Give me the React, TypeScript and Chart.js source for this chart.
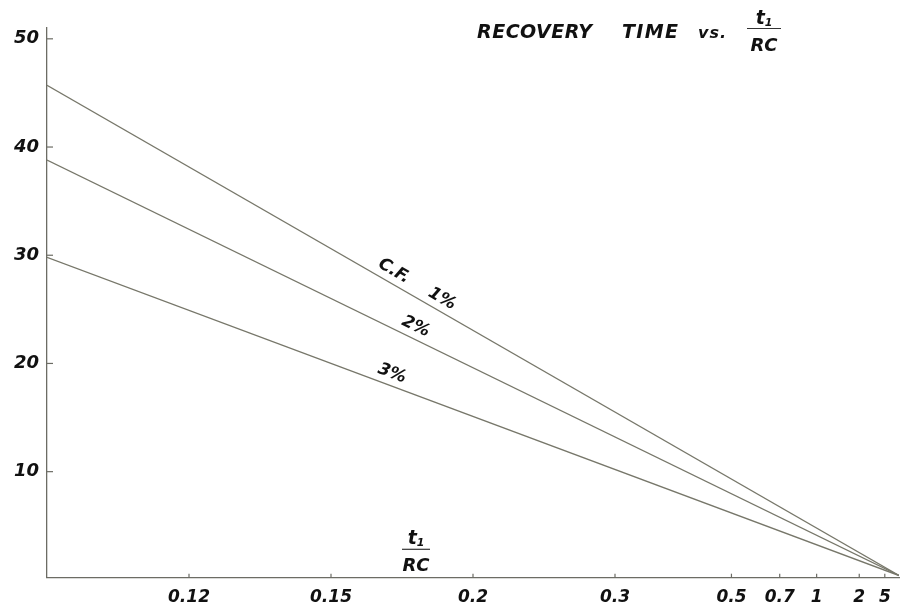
import React, { useEffect, useRef } from "react";
import { Chart, registerables } from "chart.js";

Chart.register(...registerables);

// ---- data ----
const xTickPositions = [1, 2, 3, 4, 4.82, 5.16, 5.42, 5.72, 5.9];
const xTickLabels = ["0.12", "0.15", "0.2", "0.3", "0.5", "0.7", "1", "2", "5"];
const yTickValues = [10, 20, 30, 40, 50];
const xPoints = [0, 6];
const seriesNames = ["C.F. 1%", "C.F. 2%", "C.F. 3%"];
const cf1 = [45.7, 0.4];
const cf2 = [38.8, 0.4];
const cf3 = [29.8, 0.4];
const seriesValues = [cf1, cf2, cf3];
const curveLabels = ["C.F.", "1%", "2%", "3%"];
const curveLabelSeries = [0, 0, 1, 2];
const curveLabelX = [2.4, 2.74, 2.56, 2.4];

const FONT = "'DejaVu Sans', sans-serif";
const LINE = "#77776a";
const AXIS = "#6c6c64";
const INK = "#111111";

function spacedText(ctx: CanvasRenderingContext2D, text: string, x: number, y: number, width: number) {
  (ctx as any).letterSpacing = "0px";
  const w = ctx.measureText(text).width;
  const sp = text.length > 1 ? (width - w) / (text.length - 1) : 0;
  (ctx as any).letterSpacing = `${sp}px`;
  ctx.fillText(text, x, y);
  (ctx as any).letterSpacing = "0px";
}

function fraction(ctx: CanvasRenderingContext2D, cx: number, barY: number, half: number) {
  ctx.save();
  ctx.fillStyle = INK;
  ctx.textBaseline = "alphabetic";
  ctx.font = `italic bold 19px ${FONT}`;
  const tw = ctx.measureText("t").width;
  ctx.font = `italic bold 11px ${FONT}`;
  const sw = ctx.measureText("1").width;
  const start = cx - (tw + sw) / 2;
  ctx.font = `italic bold 19px ${FONT}`;
  ctx.textAlign = "left";
  ctx.fillText("t", start, barY - 5);
  ctx.font = `italic bold 11px ${FONT}`;
  ctx.fillText("1", start + tw, barY - 3);
  ctx.strokeStyle = "#333";
  ctx.lineWidth = 1.2;
  ctx.beginPath();
  ctx.moveTo(cx - half, barY);
  ctx.lineTo(cx + half, barY);
  ctx.stroke();
  ctx.font = `italic bold 18px ${FONT}`;
  ctx.textAlign = "center";
  ctx.fillText("RC", cx, barY + 22);
  ctx.restore();
}

const overlay = {
  id: "overlay",
  afterDraw(chart: any) {
    const ctx: CanvasRenderingContext2D = chart.ctx;
    const xs = chart.scales.x;
    const ys = chart.scales.y;
    const area = chart.chartArea;
    ctx.save();
    // inward tick marks
    ctx.strokeStyle = AXIS;
    ctx.lineWidth = 1.2;
    xTickPositions.forEach((v) => {
      const px = xs.getPixelForValue(v);
      ctx.beginPath();
      ctx.moveTo(px, area.bottom);
      ctx.lineTo(px, area.bottom - 4);
      ctx.stroke();
    });
    yTickValues.forEach((v) => {
      const py = ys.getPixelForValue(v);
      ctx.beginPath();
      ctx.moveTo(area.left, py);
      ctx.lineTo(area.left + 6, py);
      ctx.stroke();
    });

    // curve labels along the lines
    ctx.fillStyle = INK;
    ctx.font = `italic bold 17px ${FONT}`;
    ctx.textAlign = "center";
    ctx.textBaseline = "middle";
    curveLabels.forEach((txt, i) => {
      const s = seriesValues[curveLabelSeries[i]];
      const x = curveLabelX[i];
      const y = s[0] + ((s[1] - s[0]) * (x - xPoints[0])) / (xPoints[1] - xPoints[0]);
      const p0x = xs.getPixelForValue(xPoints[0]);
      const p0y = ys.getPixelForValue(s[0]);
      const p1x = xs.getPixelForValue(xPoints[1]);
      const p1y = ys.getPixelForValue(s[1]);
      const th = Math.atan2(p1y - p0y, p1x - p0x);
      const px = xs.getPixelForValue(x);
      const py = ys.getPixelForValue(y);
      const d = 12;
      ctx.save();
      ctx.translate(px + d * Math.sin(th), py - d * Math.cos(th));
      ctx.rotate(th);
      ctx.fillText(txt, 0, 0);
      ctx.restore();
    });

    // title
    ctx.textAlign = "left";
    ctx.textBaseline = "alphabetic";
    ctx.font = `italic bold 19px ${FONT}`;
    spacedText(ctx, "RECOVERY", 477, 38, 115);
    spacedText(ctx, "TIME", 622, 38, 56);
    ctx.font = `italic bold 16px ${FONT}`;
    spacedText(ctx, "vs.", 698, 38, 28);
    ctx.restore();

    fraction(ctx, 764, 28.5, 17);
    // x-axis label
    fraction(ctx, 416, 549.3, 14);
  },
};

export default function App() {
  const ref = useRef<HTMLCanvasElement | null>(null);
  useEffect(() => {
    if (!ref.current) return;
    const datasets = seriesValues.map((vals, i) => ({
      label: seriesNames[i],
      data: xPoints.map((x, j) => ({ x, y: vals[j] })),
      borderColor: LINE,
      borderWidth: 1.3,
      pointRadius: 0,
      fill: false,
      tension: 0,
    }));
    const chart = new Chart(ref.current, {
      type: "line",
      data: { datasets },
      options: {
        responsive: false,
        animation: false,
        devicePixelRatio: 1,
        layout: { padding: { top: 28, right: 11, bottom: 0, left: 0 } },
        plugins: { legend: { display: false }, title: { display: false }, tooltip: { enabled: false } },
        scales: {
          x: {
            type: "linear",
            min: 0,
            max: 6,
            border: { display: true, color: AXIS, width: 1.3 },
            grid: { display: false, drawTicks: false },
            afterBuildTicks: (scale: any) => {
              scale.ticks = xTickPositions.map((v) => ({ value: v }));
            },
            afterFit: (scale: any) => {
              scale.height = 27.3;
            },
            ticks: {
              autoSkip: false,
              maxRotation: 0,
              padding: 10,
              color: INK,
              font: { family: FONT, size: 17, weight: "bold", style: "italic" },
              callback: (_v: any, i: number) => xTickLabels[i],
            },
          },
          y: {
            type: "linear",
            min: 0.2,
            max: 51,
            border: { display: true, color: AXIS, width: 1.3 },
            grid: { display: false, drawTicks: false },
            afterBuildTicks: (scale: any) => {
              scale.ticks = yTickValues.map((v) => ({ value: v }));
            },
            afterFit: (scale: any) => {
              scale.width = 47;
            },
            ticks: {
              padding: 8,
              color: INK,
              font: { family: FONT, size: 18, weight: "bold", style: "italic" },
              callback: (v: any) => String(v),
            },
          },
        },
      } as any,
      plugins: [overlay],
    });
    return () => chart.destroy();
  }, []);
  return (
    <div style={{ position: "absolute", left: 0, top: 0, width: 910, height: 605, background: "#fff" }}>
      <canvas ref={ref} width={910} height={605} style={{ display: "block" }} />
    </div>
  );
}
